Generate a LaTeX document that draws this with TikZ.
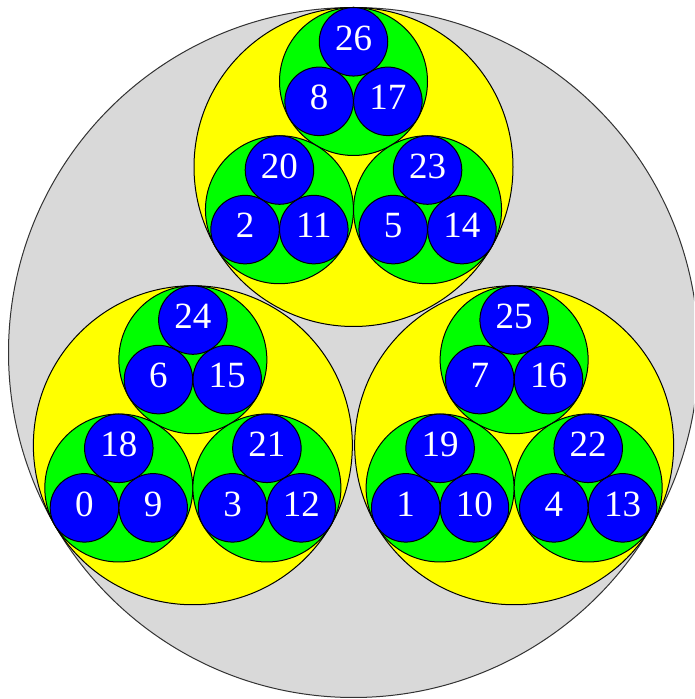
\documentclass[tikz,border=0pt]{standalone}
\usepackage{fontspec}
\setmainfont{Liberation Serif}
\definecolor{bggray}{RGB}{217,217,217}
\definecolor{cyel}{RGB}{255,255,0}
\definecolor{cgrn}{RGB}{0,255,0}
\definecolor{cblu}{RGB}{0,0,255}
\begin{document}
\begin{tikzpicture}[x=1pt,y=1pt,
  circ/.style={circle,draw=black,line width=1pt,inner sep=0pt,outer sep=0pt},
  outerc/.style={circ,fill=bggray,draw=black!80,minimum size=690pt},
  yelc/.style={circ,fill=cyel,minimum size=319pt},
  grnc/.style={circ,fill=cgrn,minimum size=148pt},
  bluc/.style={circ,fill=cblu,minimum size=68.5pt,text=white,
    font=\fontsize{37}{37}\selectfont,text depth=8pt}]
\useasboundingbox (0,0) rectangle (694,699);
\clip (0,0) rectangle (694,699);
\node[outerc] (outer) at (353.5,346.5) {};
\foreach \a/\ya in {90/2,210/0,330/1}{
  \node[yelc] (y\ya) at ([shift={(\a:185.5)}]outer.center) {};
  \foreach \b/\gb in {90/6,210/0,330/3}{
    \node[grnc] (g\ya\gb) at ([shift={(\a:185.5)},shift={(\b:85.5)}]outer.center) {};
    \foreach \c/\bb in {90/18,210/0,330/9}{
      \pgfmathtruncatemacro\n{\ya+\gb+\bb}
      \node[bluc] (b\n) at ([shift={(\a:185.5)},shift={(\b:85.5)},shift={(\c:39.7)}]outer.center) {\n};
    }
  }
}
\end{tikzpicture}
\end{document}
